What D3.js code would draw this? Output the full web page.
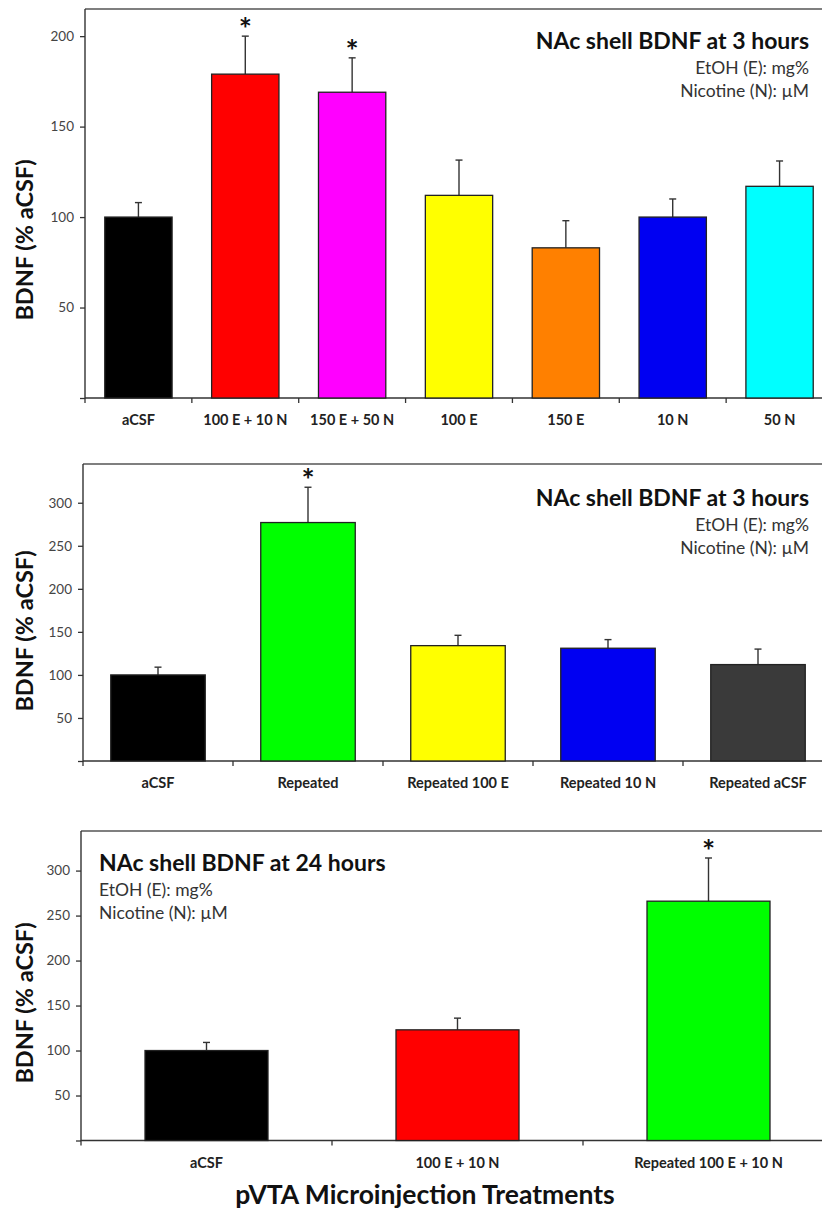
<!DOCTYPE html>
<html>
<head>
<meta charset="utf-8">
<script src="https://cdn.jsdelivr.net/npm/d3@7"></script>
<style>
  html, body { margin: 0; padding: 0; background: #fff; }
  svg { display: block; }
  text { font-family: Lato, "Open Sans", "DejaVu Sans", sans-serif; }
</style>
</head>
<body>
<svg id="chart" width="822" height="1209"></svg>
<script>
// ---- Panel A: acute treatments, 3 h ----
const catsA   = ["aCSF", "100 E + 10 N", "150 E + 50 N", "100 E", "150 E", "10 N", "50 N"];
const meanA   = [100, 179, 169, 112, 83, 100, 117];
const semA    = [8, 21, 19, 19.5, 15, 10, 14];
const sigA    = [false, true, true, false, false, false, false];
const colorsA = ["#000000", "#ff0000", "#ff00ff", "#ffff00", "#ff8000", "#0000f2", "#00ffff"];
const ticksA  = [50, 100, 150, 200];

// ---- Panel B: repeated treatments, 3 h ----
const catsB   = ["aCSF", "Repeated", "Repeated 100 E", "Repeated 10 N", "Repeated aCSF"];
const meanB   = [100, 277, 134, 131, 112];
const semB    = [9, 41, 12, 10, 18];
const sigB    = [false, true, false, false, false];
const colorsB = ["#000000", "#00ff00", "#ffff00", "#0000f2", "#3a3a3a"];
const ticksB  = [50, 100, 150, 200, 250, 300];

// ---- Panel C: 24 h ----
const catsC   = ["aCSF", "100 E + 10 N", "Repeated 100 E + 10 N"];
const meanC   = [100, 123, 266];
const semC    = [9, 13, 48];
const sigC    = [false, false, true];
const colorsC = ["#000000", "#ff0000", "#00ff00"];
const ticksC  = [50, 100, 150, 200, 250, 300];

const titleAB = "NAc shell BDNF at 3 hours";
const titleC  = "NAc shell BDNF at 24 hours";
const unitsLines = ["EtOH (E): mg%", "Nicotine (N): µM"];
const yTitle = "BDNF (% aCSF)";
const xTitle = "pVTA Microinjection Treatments";

const svg = d3.select("#chart");

function drawPanel(cfg) {
  const g = svg.append("g");
  const x = d3.scaleBand().domain(cfg.cats).range([cfg.left, cfg.right]).paddingInner(cfg.pad).paddingOuter(cfg.pad / 2);
  const y = d3.scaleLinear().domain([0, cfg.ymax]).range([cfg.bottom, cfg.top]);

  // frame top line
  g.append("line")
    .attr("x1", cfg.left).attr("x2", 822).attr("y1", cfg.top).attr("y2", cfg.top)
    .attr("stroke", "#555").attr("stroke-width", 1.4);

  // y axis
  const yAxis = g.append("g").attr("transform", `translate(${cfg.left},0)`)
    .call(d3.axisLeft(y).tickValues([0].concat(cfg.ticks)).tickSize(5).tickPadding(6)
      .tickFormat(d => d === 0 ? "" : d));
  yAxis.select(".domain").remove();
  yAxis.append("line").attr("x1", 0).attr("x2", 0).attr("y1", cfg.top).attr("y2", cfg.bottom + 0.5)
    .attr("stroke", "#333").attr("stroke-width", 1.4);
  yAxis.selectAll(".tick line").attr("stroke", "#333").attr("stroke-width", 1.3);
  yAxis.selectAll(".tick text").attr("fill", "#444").style("font-size", "13.5px")
    .style("font-family", "Lato, 'Open Sans', sans-serif");

  // x axis with ticks at category boundaries
  const bounds = cfg.cats.map(c => x(c) - x.step() * cfg.pad / 2).concat([cfg.right]);
  g.append("line").attr("x1", cfg.left).attr("x2", 822).attr("y1", cfg.bottom).attr("y2", cfg.bottom)
    .attr("stroke", "#333").attr("stroke-width", 1.4);
  g.selectAll(".xb").data(bounds).join("line")
    .attr("x1", d => d).attr("x2", d => d).attr("y1", cfg.bottom).attr("y2", cfg.bottom + 5)
    .attr("stroke", "#333").attr("stroke-width", 1.3);
  g.selectAll(".xl").data(cfg.cats).join("text")
    .attr("x", d => x(d) + x.bandwidth() / 2).attr("y", cfg.bottom + 27)
    .attr("text-anchor", "middle").attr("fill", "#222")
    .style("font-size", "14.5px").style("font-weight", "bold")
    .text(d => d);

  const rows = cfg.cats.map((c, i) => ({ c, m: cfg.mean[i], e: cfg.sem[i], s: cfg.sig[i], col: cfg.colors[i] }));

  // error bars (upper half only)
  g.selectAll(".eb").data(rows).join("line")
    .attr("x1", d => x(d.c) + x.bandwidth() / 2).attr("x2", d => x(d.c) + x.bandwidth() / 2)
    .attr("y1", d => y(d.m)).attr("y2", d => y(d.m + d.e))
    .attr("stroke", "#333").attr("stroke-width", 1.4);
  g.selectAll(".ec").data(rows).join("line")
    .attr("x1", d => x(d.c) + x.bandwidth() / 2 - 3.5).attr("x2", d => x(d.c) + x.bandwidth() / 2 + 3.5)
    .attr("y1", d => y(d.m + d.e)).attr("y2", d => y(d.m + d.e))
    .attr("stroke", "#333").attr("stroke-width", 1.4);

  // bars
  g.selectAll(".bar").data(rows).join("rect")
    .attr("x", d => x(d.c)).attr("width", x.bandwidth())
    .attr("y", d => y(d.m)).attr("height", d => y(0) - y(d.m))
    .attr("fill", d => d.col).attr("stroke", "#222").attr("stroke-width", 1.3);

  // significance markers
  g.selectAll(".sig").data(rows.filter(d => d.s)).join("text")
    .attr("x", d => x(d.c) + x.bandwidth() / 2).attr("y", d => y(d.m + d.e) + 4)
    .attr("text-anchor", "middle").attr("fill", "#111")
    .style("font-size", "31px").style("font-weight", "bold").text("*");

  // panel title and units
  g.append("text").attr("x", cfg.tx).attr("y", cfg.ty).attr("text-anchor", cfg.anchor)
    .attr("fill", "#111").style("font-size", "23px").style("font-weight", "bold").text(cfg.title);
  g.selectAll(".unit").data(unitsLines).join("text")
    .attr("x", cfg.tx).attr("y", (d, i) => cfg.ty + 25 + i * 23).attr("text-anchor", cfg.anchor)
    .attr("fill", "#333").style("font-size", "17.5px").text(d => d);

  // y axis title
  g.append("text")
    .attr("transform", `translate(33,${cfg.ly}) rotate(-90)`)
    .attr("text-anchor", "middle").attr("fill", "#111")
    .style("font-size", "23.5px").style("font-weight", "bold").text(yTitle);
}

drawPanel({ cats: catsA, mean: meanA, sem: semA, sig: sigA, colors: colorsA, ticks: ticksA,
  left: 85, right: 833, top: 9, bottom: 398, ymax: 215, pad: 0.37,
  title: titleAB, tx: 809, ty: 49, anchor: "end", ly: 240 });

drawPanel({ cats: catsB, mean: meanB, sem: semB, sig: sigB, colors: colorsB, ticks: ticksB,
  left: 83, right: 833, top: 464, bottom: 761, ymax: 345, pad: 0.37,
  title: titleAB, tx: 809, ty: 506, anchor: "end", ly: 631 });

drawPanel({ cats: catsC, mean: meanC, sem: semC, sig: sigC, colors: colorsC, ticks: ticksC,
  left: 81, right: 834, top: 831, bottom: 1140.5, ymax: 344, pad: 0.51,
  title: titleC, tx: 99, ty: 871, anchor: "start", ly: 1003 });

svg.append("text").attr("x", 425).attr("y", 1204).attr("text-anchor", "middle")
  .attr("fill", "#111").style("font-size", "26.5px").style("font-weight", "bold").text(xTitle);
</script>
</body>
</html>
